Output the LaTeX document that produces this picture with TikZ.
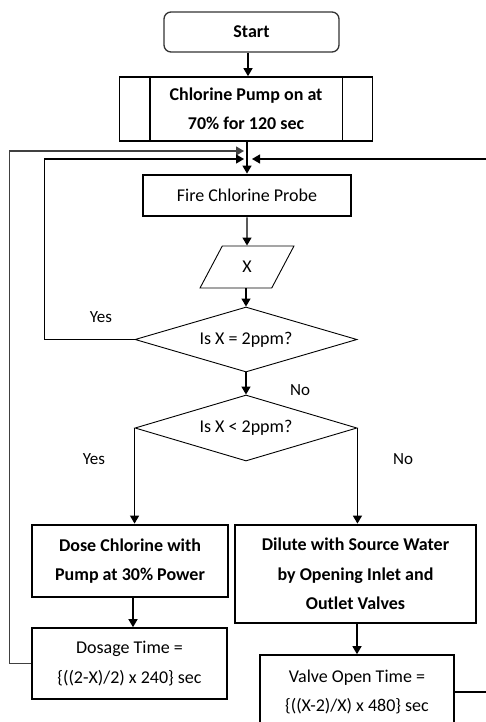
\documentclass[tikz,border=0pt]{standalone}
\usepackage{fontspec}
\setmainfont{Carlito}
\usetikzlibrary{shapes.geometric,arrows.meta}

\begin{document}
\begin{tikzpicture}[x=1pt, y=-1pt, >={Triangle[length=8pt,width=9pt]},
    every node/.style={font=\fontsize{18}{29.5}\selectfont, align=center, inner sep=0pt},
    startbox/.style={draw=black!80, rounded corners=7pt, line width=1.3pt, font=\fontsize{18}{29.5}\selectfont\bfseries},
    procbox/.style={draw, rectangle, line width=1.6pt},
    heavybox/.style={draw, rectangle, line width=2.8pt, font=\fontsize{18}{29.5}\selectfont\bfseries},
    decision/.style={draw, diamond, aspect=3.4, line width=0.9pt, minimum width=222pt},
    iobox/.style={draw, trapezium, trapezium left angle=70, trapezium right angle=110,
        trapezium stretches=true, line width=0.9pt, minimum width=94pt, minimum height=42pt},
    flow/.style={->, line width=1.3pt},
    lbl/.style={font=\fontsize{17}{20}\selectfont}]
    \useasboundingbox (0,0) rectangle (486,722);

    % Start and pump
    \node[startbox, minimum width=175pt, minimum height=40pt] (start) at (251.5,32) {Start};
    \node[procbox, font=\fontsize{18}{29.5}\selectfont\bfseries, minimum width=253pt, minimum height=64pt] (pump) at (246,109) {Chlorine Pump on at\\70\% for 120 sec};
    \draw[line width=1.6pt] ([xshift=31pt]pump.north west) -- ([xshift=31pt]pump.south west);
    \draw[line width=1.6pt] ([xshift=-31pt]pump.north east) -- ([xshift=-31pt]pump.south east);
    \draw[flow] ([xshift=-3.5pt]start.south) -- ([xshift=-3.5pt]start.south |- pump.north);

    % Probe and reading
    \node[heavybox, font=\fontsize{18}{29.5}\selectfont, minimum width=208pt, minimum height=41pt] (probe) at (247,195.5) {Fire Chlorine Probe};
    \node[iobox] (reading) at (247,267) {X};
    \draw[flow] (pump.south -| probe.north) -- (probe);
    \draw[flow] (probe) -- (reading);

    % Tests
    \node[decision, minimum height=65pt] (equal) at (246,339.5) {Is X = 2ppm?};
    \node[decision, minimum height=66pt] (less) at (246,428) {Is X < 2ppm?};
    \draw[flow] (reading.south -| equal.north) -- (equal);
    \draw[flow] (equal) -- (less);
    \node[lbl] (yes1) at (101,317) {Yes};
    \node[lbl] (no1) at (300,390) {No};
    \node[lbl] (yes2) at (94,459) {Yes};
    \node[lbl] (no2) at (403,459) {No};

    % Dosing branch
    \node[heavybox, minimum width=196pt, minimum height=72pt] (dose) at (130,561) {Dose Chlorine with\\Pump at 30\% Power};
    \node[procbox, minimum width=195pt, minimum height=71pt] (dosage) at (129.5,663.5) {Dosage Time =\\\{((2-X)/2) x 240\} sec};
    \draw[flow] (less.west) -- (less.west |- dose.north);
    \draw[flow] ([xshift=3pt]dose.south) -- ([xshift=3pt]dose.south |- dosage.north);

    % Dilution branch
    \node[heavybox, minimum width=241pt, minimum height=98pt] (dilute) at (355.5,574) {Dilute with Source Water\\by Opening Inlet and\\Outlet Valves};
    \node[procbox, minimum width=194pt, minimum height=74pt] (valve) at (357,692) {Valve Open Time =\\\{((X-2)/X) x 480\} sec};
    \draw[flow] (less.east) -- (less.east |- dilute.north);
    \draw[flow] (dilute.south -| valve.north) -- (valve);

    % Loops back to the probe
    \coordinate (jointA) at (244,151);
    \coordinate (jointB) at (244,159);
    \coordinate (jointC) at (252,159);
    \draw[flow, black!75] (dosage.west) -- ++(-22,0) |- (jointA);
    \draw[flow] (equal.west) -- ++(-90,0) |- (jointB);
    \draw[flow] (valve.east) -- ++(40,0) |- (jointC);
\end{tikzpicture}
\end{document}
